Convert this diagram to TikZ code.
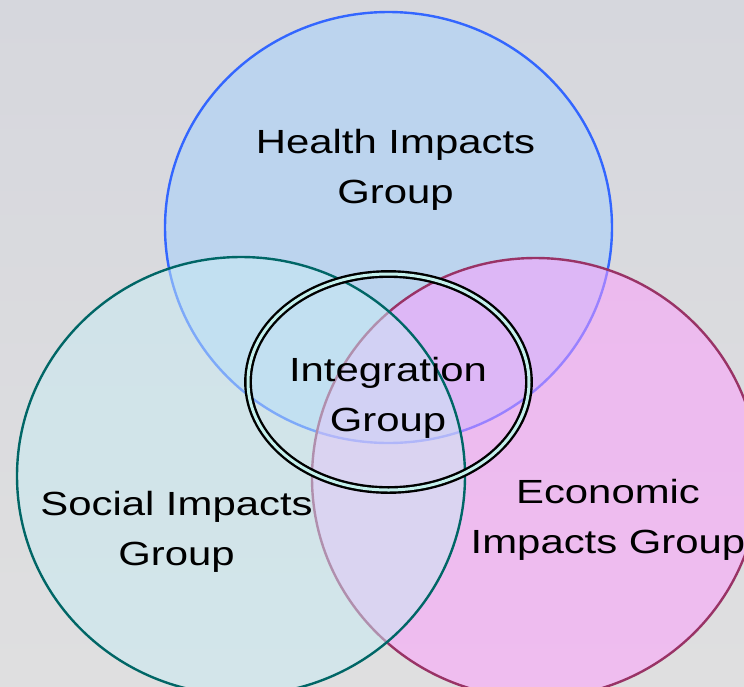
\documentclass[tikz,border=0pt]{standalone}
\usepackage{fontspec}
\setmainfont{Liberation Sans}[FakeStretch=1.25]
\definecolor{bgtop}{RGB}{214,215,221}
\definecolor{bgbot}{RGB}{223,223,224}
\definecolor{healthfill}{RGB}{188,212,238}
\definecolor{healthline}{RGB}{51,102,255}
\definecolor{econfill}{RGB}{255,156,255}
\definecolor{econline}{RGB}{153,51,102}
\definecolor{socfill}{RGB}{200,236,244}
\definecolor{socline}{RGB}{0,102,102}
\definecolor{gapcol}{RGB}{196,240,236}
\tikzset{
  label/.style={align=center, inner sep=0pt, font=\fontsize{33.5pt}{50pt}\selectfont, text=black},
  venn/.style={line width=2.4pt},
}
\begin{document}
\begin{tikzpicture}[x=1pt,y=-1pt]
\shade[top color=bgtop, bottom color=bgbot] (0,0) rectangle (744,686);
\useasboundingbox (0,0) rectangle (744,686);
\begin{scope}
\clip (0,0) rectangle (744,686);
\draw[venn, fill=healthfill, draw=healthline] (388.5,227.5) ellipse [x radius=223.5, y radius=215.5];
\draw[venn, fill=econfill, fill opacity=0.5, draw=econline] (535.5,478) ellipse [x radius=223.5, y radius=220];
\draw[venn, fill=socfill, fill opacity=0.5, draw=socline] (241,476) ellipse [x radius=224, y radius=219];
\draw[line width=2.4pt, double=gapcol, double distance=3pt, draw=black] (388.5,382) ellipse [x radius=140.5, y radius=108];
\end{scope}
\node[label] (health) at (395.5,170) {Health Impacts\\Group};
\node[label] (social) at (176.5,532) {Social Impacts\\Group};
\node[label] (econ) at (608,520) {Economic\\Impacts Group};
\node[label] (integ) at (388,398) {Integration\\Group};
\end{tikzpicture}
\end{document}
